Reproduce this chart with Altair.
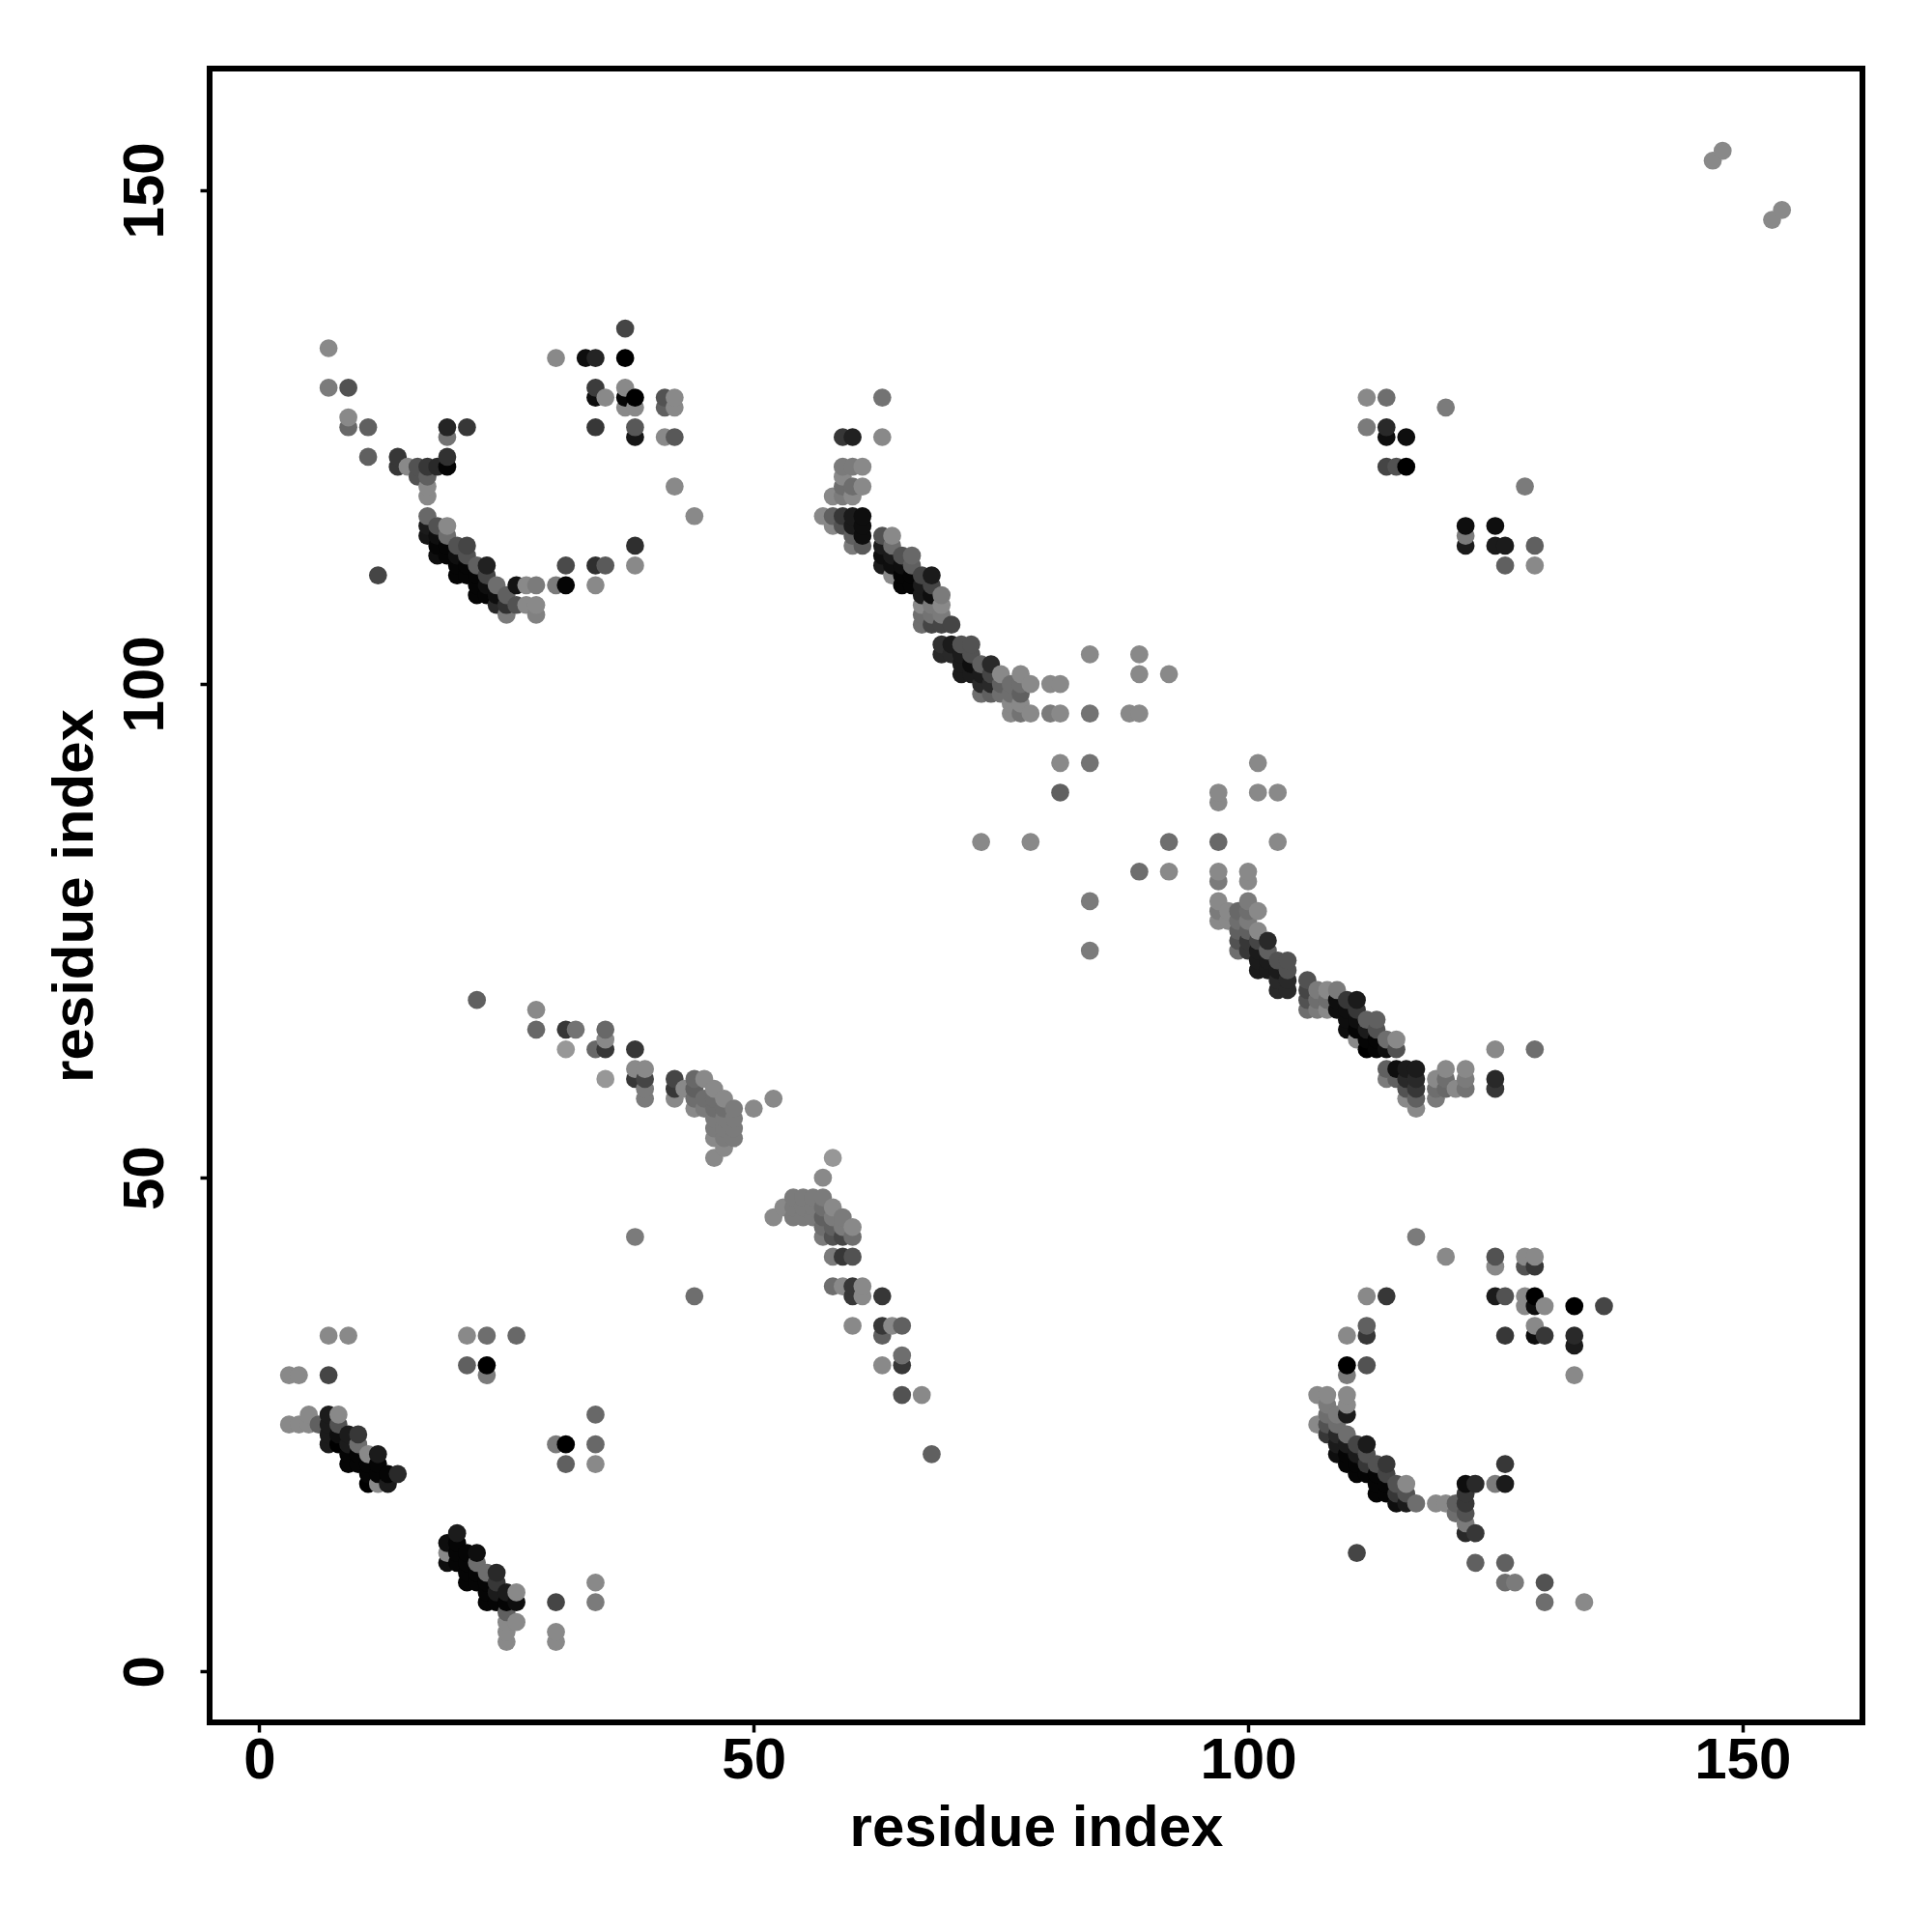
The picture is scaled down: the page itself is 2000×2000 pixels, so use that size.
import altair as alt
import pandas as pd

FONT = "Liberation Sans"

upper_strand = [(22,68,.35),(28,67,.5),(28,65,.38),(31,65,.2),(32,65,.42),(35,65,.38),(35,64,.5),(35,63,.2),(34,63,.38),(31,63,.55),
(38,63,.2),(38,61,.5),(39,61,.5),(38,60,.2),(39,60,.25),(35,60,.55),(39,59,.45),(39,58,.45),(42,60,.25),(42,59,.2),(42,58,.5),(43,59,.5),
(44,60,.38),(45,60,.5),(44,59,.35),(44,58,.4),(44,57,.5),(45,58,.4),(45,57,.45),(46,59,.5),(47,58,.5),(46,57,.4),(46,58,.4),(47,57,.4),(48,57,.45),
(48,56,.45),(47,56,.45),(46,56,.45),(46,55,.45),(47,55,.45),(48,55,.45),(46,54,.5),(47,54,.45),(48,54,.45),(47,53,.5),(46,52,.5),(50,57,.5),(52,58,.5)]
mid_strand = [(58,52,.55),(57,50,.5),(52,46,.5),(53,47,.5),(54,48,.45),(55,48,.45),(56,48,.45),(57,48,.45),(54,47,.45),(55,47,.45),(56,47,.45),
(54,46,.45),(55,46,.45),(56,46,.45),(57,47,.4),(58,47,.5),(57,46,.35),(58,46,.45),(59,46,.45),(57,45,.4),(58,45,.35),(59,45,.45),(60,45,.5),
(57,44,.45),(58,44,.3),(59,44,.25),(60,44,.4),(58,42,.45),(59,42,.2),(60,42,.3),(58,39,.4),(59,39,.5),(60,39,.2),(60,38,.2),(61,39,.5),(61,38,.5),(63,38,.2),
(60,35,.5),(63,35,.2),(64,35,.5),(65,35,.35),(63,34,.35),(63,31,.5),(65,32,.4),(65,31,.2),(65,28,.3),(67,28,.5),(68,22,.35),(38,44,.45),(44,38,.4)]
lower_left = [(7,34,.5),(9,34,.5),(21,34,.5),(23,34,.4),(26,34,.38),(3,30,.5),(4,30,.5),(7,30,.25),(21,31,.35),(23,31,0),(23,30,.45),
(3,25,.5),(4,25,.5),(5,25,.5),(5,26,.5),(6,25,.35),(7,26,.1),(8,26,.5),(7,25,.1),(8,25,.3),(7,24,.1),(7,23,.1),(8,24,.05),(8,23,0),(9,24,.1),(10,24,.2),
(9,23,.1),(10,23,.4),(9,22,.02),(9,21,.02),(10,22,.02),(11,22,.5),(10,21,.02),(12,22,.1),(11,21,.02),(12,21,.02),(11,20,.02),(12,20,.02),(13,20,.02),(14,20,.15),(11,19,0),(12,19,.5),(13,19,.1),
(20,14,.1),(19,13,.05),(20,13,.02),(19,12,.5),(20,12,.02),(21,12,.02),(22,12,.05),(19,11,.05),(20,11,.02),(21,11,.02),(22,11,.4),(21,10,.02),(22,10,.02),(23,10,.4),(24,10,.15),
(21,9,.02),(22,9,.02),(23,9,.02),(24,9,.2),(23,8,.02),(24,8,.1),(25,8,.1),(26,8,.5),(23,7,.02),(24,7,.02),(25,7,.02),(26,7,.05),(25,6,.35),(25,5,.5),(26,5,.5),(25,4,.5),(25,3,.5),
(30,7,.25),(30,4,.5),(30,3,.5),(34,9,.5),(34,7,.45),(34,26,.38),(30,23,.45),(31,23,0),(34,23,.38),(31,21,.35),(34,21,.5)]
lower_right = [(117,44,.45),(120,42,.5),(125,42,.3),(125,41,.5),(128,42,.5),(129,42,.5),(128,41,.3),(129,41,.2),(112,38,.5),(114,38,.2),(125,38,.1),(126,38,.3),(128,38,.5),(129,38,0),
(128,37,.5),(129,37,.05),(130,37,.5),(133,37,0),(136,37,.25),(112,35,.35),(112,34,.2),(110,34,.5),(126,34,.2),(129,35,.5),(129,34,.05),(130,34,.2),(133,34,.15),(133,33,.1),(133,30,.5),
(110,31,0),(112,31,.3),(110,30,.45),(107,28,.5),(108,28,.5),(110,28,.5),(108,27,.45),(110,27,.5),(109,26,.45),(110,26,.1),(108,26,.4),(107,25,.5),(108,25,.3),(109,25,.4),(108,24,.2),(109,24,.15),(110,24,.4),
(109,23,.1),(110,23,.1),(111,23,.25),(112,23,.1),(109,22,.05),(110,22,.02),(111,22,.1),(112,22,.3),(110,21,.02),(111,21,.02),(112,21,.2),(113,21,.3),(114,21,.2),(111,20,.02),(112,20,.02),(113,20,.02),(114,20,.25),
(113,19,.02),(114,19,.02),(115,19,.3),(116,19,.5),(113,18,.02),(114,18,.02),(115,18,.2),(116,18,.3),(115,17,.05),(116,17,.1),(117,17,.4),(119,17,.5),(120,17,.5),
(122,19,.05),(123,19,.15),(125,19,.45),(126,19,.1),(126,21,.2),(122,18,.2),(122,17,.2),(121,17,.35),(121,16,.4),(122,16,.3),(122,15,.45),(122,14,.15),(123,14,.2),
(111,12,.25),(123,11,.35),(126,11,.35),(126,9,.4),(127,9,.45),(130,9,.3),(130,7,.4),(134,7,.5)]
right_diagonal = [(101,92,.5),(101,89,.5),(103,89,.5),(97,89,.5),(97,88,.5),(97,84,.38),(103,84,.5),(97,81,.5),(100,81,.5),(97,80,.45),(100,80,.5),(97,78,.5),(100,78,.45),(97,77,.45),(97,76,.5),(98,77,.5),(98,76,.5),
(99,77,.38),(99,76,.4),(100,77,.4),(101,77,.5),(100,76,.45),(99,75,.35),(99,74,.3),(99,73,.4),(100,75,.35),(101,75,.5),(100,74,.2),(100,73,.2),(101,74,.25),(102,74,.15),
(101,73,.1),(101,72,.1),(101,71,.1),(102,73,.35),(102,72,.1),(102,71,.1),(103,72,.3),(104,72,.3),(103,71,.1),(104,71,.3),(103,70,.15),(104,70,.15),(103,69,.15),(104,69,.15),
(106,70,.3),(106,69,.25),(106,68,.3),(106,67,.4),(107,69,.45),(107,68,.4),(107,67,.45),(108,69,.5),(108,68,.4),(108,67,.5),(109,69,.45),(109,68,.05),(109,67,.05),(110,68,.2),(111,68,.1),(110,67,.05),(111,67,.2),
(110,66,.05),(110,65,.05),(111,66,.05),(111,65,.02),(112,66,.35),(113,66,.35),(112,65,.1),(113,65,.3),(111,64,.5),(112,64,.02),(113,64,.02),(114,64,.4),(115,64,.5),(112,63,0),(113,63,.02),(114,63,.05),(115,63,.3),
(114,61,.35),(115,61,.05),(116,61,.1),(117,61,.1),(114,60,.45),(115,60,.35),(116,60,.15),(117,60,.15),(116,59,.3),(117,59,.2),(116,58,.5),(117,58,.35),(117,57,.5),
(119,60,.5),(119,59,.4),(119,58,.45),(120,61,.5),(120,60,.4),(120,59,.38),(121,59,.5),(122,61,.5),(122,60,.45),(122,59,.42),(125,63,.5),(129,63,.4),(125,60,.15),(125,59,.2)]
center_diagonal = [(63,129,.42),(63,125,.5),(59,125,.2),(60,125,.12),(59,122,.45),(60,122,.45),(61,122,.5),(59,121,.5),(59,120,.4),(60,120,.4),(61,120,.5),(58,119,.5),(59,119,.45),(60,119,.5),
(57,117,.5),(58,117,.35),(59,117,.2),(60,117,.1),(61,117,.05),(58,116,.5),(59,116,.3),(60,116,.1),(61,116,.05),(60,115,.35),(61,115,.05),(60,114,.45),(61,114,.33),(63,115,.3),(64,115,.5),
(63,114,.1),(64,114,.4),(63,113,.05),(64,113,.1),(65,113,.3),(66,113,.38),(63,112,.1),(64,112,.05),(65,112,.05),(66,112,.35),(64,111,.5),(65,111,.02),(66,111,.02),(67,111,.25),(68,111,.1),
(65,110,.02),(66,110,.02),(67,110,.1),(68,110,.25),(67,109,.1),(68,109,.05),(69,109,.45),(67,108,.5),(68,108,.45),(69,108,.5),(67,107,.4),(68,107,.42),(69,107,.45),(67,106,.4),(68,106,.25),(69,106,.25),(70,106,.25),
(69,104,.18),(70,104,.1),(71,104,.3),(72,104,.3),(69,103,.15),(70,103,.15),(71,103,.1),(72,103,.3),(71,102,.1),(72,102,.05),(73,102,.35),(74,102,.15),(71,101,.1),(72,101,.1),(73,101,.1),(74,101,.25),(75,101,.5),(77,101,.5),
(73,100,.15),(74,100,.15),(75,100,.35),(76,100,.4),(77,100,.4),(78,100,.5),(80,100,.5),(81,100,.5),(73,99,.4),(74,99,.35),(75,99,.4),(76,99,.4),(77,99,.35),(76,97,.5),(77,97,.42),(78,97,.5),(76,98,.5),(77,98,.5),
(80,97,.45),(81,97,.5),(84,97,.42),(88,97,.5),(89,97,.5),(84,103,.5),(89,103,.5),(89,101,.5),(92,101,.5),(81,92,.5),(84,92,.42),(81,89,.35),(73,84,.5),(78,84,.5),(84,78,.45),(84,73,.45),(92,84,.4),(89,81,.4),(92,81,.5)]
upper_left = [(7,134,.5),(7,130,.45),(9,130,.3),(9,127,.5),(9,126,.38),(11,126,.35),(11,123,.35),(14,123,.2),(14,122,.2),(15,122,.5),(16,122,.3),(16,121,.3),(17,122,.2),(17,121,.35),(17,120,.5),(17,119,.5),
(18,122,.15),(19,122,.02),(19,123,.18),(19,125,.42),(19,126,.13),(21,126,.2),(17,117,.38),(17,116,.1),(18,116,.3),(19,116,.5),(17,115,.08),(18,115,.05),(19,115,.4),(18,114,.02),(18,113,.05),(19,114,.02),(19,113,.02),
(20,114,.3),(21,114,.25),(20,113,.05),(21,113,.3),(20,112,.02),(20,111,.02),(21,112,.02),(21,111,.02),(22,112,.35),(23,112,.12),(22,111,.02),(23,111,.25),(12,111,.25),(22,110,.02),(22,109,.02),(23,110,.05),(23,109,.02),
(24,110,.4),(24,109,.05),(25,109,.35),(26,110,.07),(27,110,.5),(28,110,.45),(30,110,.45),(31,110,.02),(34,110,.5),(24,108,.15),(25,108,.18),(26,108,.3),(27,108,.5),(28,108,.5),(25,107,.45),(28,107,.47),
(31,112,.27),(34,112,.17),(35,112,.33),(38,112,.5),(38,114,.17),(42,120,.5),(44,117,.5),(37,136,.25),(30,133,.5),(33,133,.05),(34,133,.13),(37,133,0),(34,130,.22),(34,129,.05),(35,129,.5),(37,130,.5),(37,129,.02),(38,129,0),
(37,128,.5),(38,128,.5),(41,129,.3),(42,129,.5),(41,128,.35),(42,128,.5),(34,126,.2),(38,126,.32),(38,125,.08),(41,125,.5),(42,125,.32)]
upper_right = [(112,129,.5),(114,129,.4),(112,126,.45),(114,126,.15),(114,125,.05),(116,125,.05),(120,128,.45),(114,122,.25),(115,122,.3),(116,122,0),(128,120,.45),(122,116,.05),(125,116,.05),(122,115,.45),(122,114,.1),
(125,114,.1),(126,114,.1),(129,114,.35),(126,112,.35),(129,112,.5),(148,154,.5),(147,153,.5),(154,148,.5),(153,147,.5)]

tick_values = [0, 50, 100, 150]
rows = upper_strand + mid_strand + lower_left + lower_right + right_diagonal + center_diagonal + upper_left + upper_right
df = pd.DataFrame(rows, columns=["x", "y", "g"]).drop_duplicates(["x", "y"]).sort_values(["x", "y"])


def axis(pad, title_pad, **kw):
    return alt.Axis(values=tick_values, title="residue index", grid=False, domain=False,
                    tickColor="black", tickWidth=3.5, tickSize=10, labelFont=FONT, labelFontWeight="bold",
                    labelFontSize=60, labelColor="black", titleFont=FONT, titleFontWeight="bold",
                    titleFontSize=60, titleColor="black", labelPadding=pad, titlePadding=title_pad,
                    labelOverlap=False, labelFlush=False, **kw)


chart = (
    alt.Chart(df)
    .mark_circle(size=350, opacity=1)
    .encode(
        x=alt.X("x:Q", scale=alt.Scale(domain=[-5.03, 162.14], nice=False, zero=False), axis=axis(0, 11)),
        y=alt.Y("y:Q", scale=alt.Scale(domain=[-5.16, 162.32], nice=False, zero=False),
                axis=axis(26, 12, labelAngle=270, labelAlign="center", labelBaseline="bottom")),
        color=alt.Color("g:Q", scale=alt.Scale(domain=[0, 0.93], range=["#000000", "#ffffff"], interpolate="rgb"), legend=None),
    )
    .properties(width=1711, height=1712,
                padding={"left": 209, "top": 63, "right": 50, "bottom": 150},
                autosize=alt.AutoSizeParams(type="none"),
                view=alt.ViewBackground(stroke="black", strokeWidth=6, fill="white"))
    .configure(background="white")
)
chart.save("out.html", embed_options={"renderer": "svg", "actions": False})
